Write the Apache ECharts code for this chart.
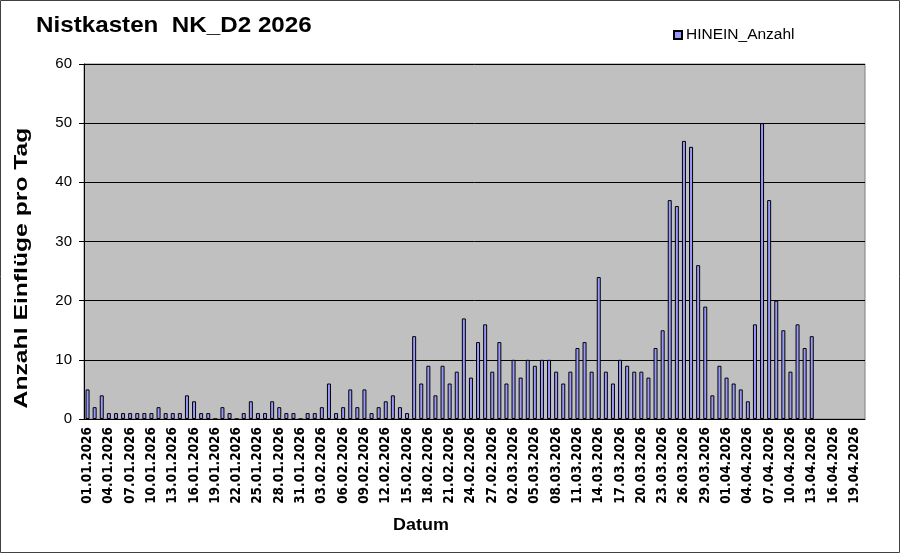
<!DOCTYPE html>
<html><head><meta charset="utf-8">
<script src="https://cdn.jsdelivr.net/npm/echarts@6/dist/echarts.min.js"></script>
<style>html,body{margin:0;padding:0;background:#fff}#c{width:900px;height:553px}</style>
</head><body><div id="c"></div>
<script>
// Categories: daily dates 01.01.2026 .. 20.04.2026
const startDate = [2026, 0, 1];
const dayCount = 110;
const categories = [];
for (let i = 0; i < dayCount; i++) {
  const d = new Date(Date.UTC(startDate[0], startDate[1], startDate[2] + i));
  const dd = String(d.getUTCDate()).padStart(2, '0');
  const mm = String(d.getUTCMonth() + 1).padStart(2, '0');
  categories.push(dd + '.' + mm + '.' + d.getUTCFullYear());
}
const seriesName = 'HINEIN_Anzahl';
const hineinValues = [
  5,2,4,1,1,1,1,1,1,1,
  2,1,1,1,4,3,1,1,0,2,
  1,0,1,3,1,1,3,2,1,1,
  0,1,1,2,6,1,2,5,2,5,
  1,2,3,4,2,1,14,6,9,4,
  9,6,8,17,7,13,16,8,13,6,
  10,7,10,9,10,10,8,6,8,12,
  13,8,24,8,6,10,9,8,8,7,
  12,15,37,36,47,46,26,19,4,9,
  7,6,5,3,16,50,37,20,15,8,
  16,12,14,null,null,null,null,null,null,null
];
const yTicks = { min: 0, max: 60, interval: 10 };
const titleText = 'Nistkasten  NK_D2 2026';
const xName = 'Datum';
const yName = 'Anzahl Einflüge pro Tag';

const chart = echarts.init(document.getElementById('c'), null, { renderer: 'canvas' });
const font = '"Liberation Sans", Arial, sans-serif';
chart.setOption({
  animation: false,
  backgroundColor: '#ffffff',
  textStyle: { fontFamily: font },
  graphic: [
    { type: 'rect', shape: { x: 0.5, y: 0.5, width: 899, height: 552 },
      style: { fill: 'none', stroke: '#404040', lineWidth: 1 }, silent: true },
    { type: 'text', x: 36, y: 26, scaleX: 1.1,
      style: { text: titleText, font: 'bold 22px ' + font, fill: '#000', verticalAlign: 'middle', align: 'left' } },
    { type: 'text', x: 421, y: 526, scaleX: 1.12,
      style: { text: xName, font: 'bold 16px ' + font, fill: '#000', verticalAlign: 'middle', align: 'center' } },
    { type: 'text', x: 22, y: 268, rotation: Math.PI / 2, scaleX: 1.3,
      style: { text: yName, font: 'bold 19px ' + font, fill: '#000', verticalAlign: 'middle', align: 'center' } }
  ],
  legend: {
    data: [seriesName], left: 673, top: 27, padding: 0, itemWidth: 8, itemHeight: 8, itemGap: 2,
    textStyle: { fontSize: 15.5, color: '#000', fontFamily: font, padding: [0, 0, 0, -1] },
    icon: 'rect'
  },
  grid: { left: 84, top: 64, width: 781, height: 355, show: true, backgroundColor: '#C0C0C0',
    borderColor: '#808080', borderWidth: 1, containLabel: false },
  xAxis: {
    type: 'category', data: categories, boundaryGap: true,
    axisLine: { lineStyle: { color: '#000', width: 1 } },
    axisTick: { interval: 2, length: 5, lineStyle: { color: '#000' } },
    axisLabel: { interval: 2, rotate: 90, fontSize: 13.5, fontWeight: 'bold', color: '#000', margin: 8,
      fontFamily: '"DejaVu Sans Condensed", "Liberation Sans", sans-serif' }
  },
  yAxis: {
    type: 'value', min: yTicks.min, max: yTicks.max, interval: yTicks.interval,
    axisLine: { show: true, lineStyle: { color: '#000', width: 1 } },
    axisTick: { show: true, length: 5, lineStyle: { color: '#000' } },
    axisLabel: { fontSize: 15, color: '#000', margin: 12, fontFamily: font },
    splitLine: { lineStyle: { color: '#000', width: 1 } }
  },
  series: [{
    name: seriesName, type: 'bar', data: hineinValues, barWidth: 4,
    itemStyle: { color: '#9999FF', borderColor: '#000', borderWidth: 1 }
  }]
});
</script></body></html>
